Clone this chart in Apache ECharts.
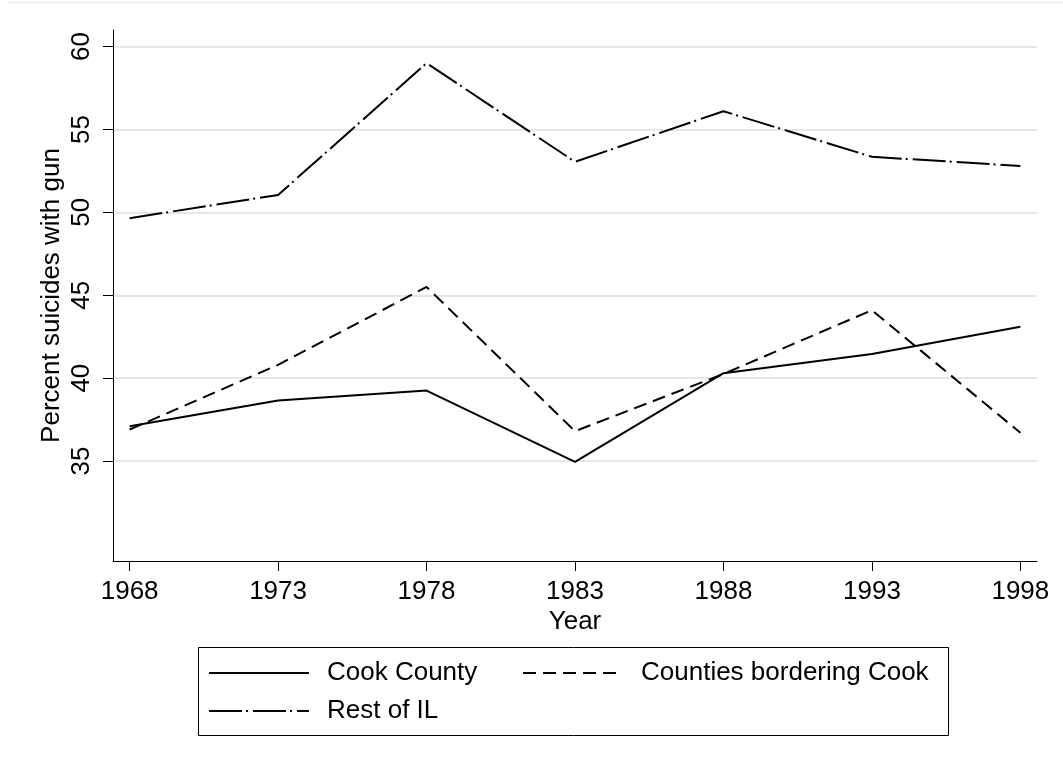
<html>
<head>
    <meta charset='utf-8'/>
    <title>Percent suicides with gun</title>
    <style>
        body {
            margin: 0;
            padding: 0;
            background: #fff;
        }

        #chart {
            width: 1063px;
            height: 769px;
        }
    </style>
</head>
<body>
<div id='chart'></div>
<script type="text/javascript" src="https://cdn.jsdelivr.net/npm/echarts@6/dist/echarts.min.js"></script>
<script type="text/javascript">
    var years = [1968, 1973, 1978, 1983, 1988, 1993, 1998];
    var yTicks = [35, 40, 45, 50, 55, 60];
    var cookCounty = [37.1, 38.65, 39.25, 34.95, 40.3, 41.45, 43.1];
    var bordering = [36.9, 40.8, 45.5, 36.8, 40.25, 44.1, 36.7];
    var restOfIL = [49.65, 51.05, 59.0, 53.05, 56.1, 53.35, 52.8];

    function pairs(values) {
        return years.map(function (y, i) {
            return [y, values[i]];
        });
    }

    var font = "'Liberation Sans', Arial, sans-serif";
    var chart = echarts.init(document.getElementById('chart'), null, {renderer: 'canvas'});

    // shared legend look, stata-like long line samples
    var legendBase = {
        orient: 'vertical',
        itemWidth: 100,
        itemHeight: 14,
        itemGap: 12,
        align: 'left',
        itemStyle: {opacity: 0},
        textStyle: {
            fontSize: 26,
            color: '#000',
            fontFamily: font,
            padding: [0, 0, 0, 13]
        }
    };

    var option = {
        backgroundColor: '#fff',
        animation: false,
        textStyle: {fontFamily: font, color: '#000'},
        grid: {
            left: 113,
            right: 26,
            top: 30,
            bottom: 208,
            containLabel: false
        },
        xAxis: {
            type: 'value',
            min: 1967.44,
            max: 1998.56,
            name: 'Year',
            nameLocation: 'middle',
            nameGap: 48,
            nameMoveOverlap: false,
            nameTextStyle: {fontSize: 26, color: '#000', fontFamily: font},
            axisLine: {lineStyle: {color: '#000', width: 1}},
            axisTick: {show: true, length: 10, customValues: years, lineStyle: {color: '#000'}},
            axisLabel: {
                customValues: years,
                formatter: function (v) { return String(v); },
                fontSize: 26,
                color: '#000',
                margin: 18,
                fontFamily: font
            },
            splitLine: {show: false}
        },
        yAxis: {
            type: 'value',
            min: 28.97,
            max: 61.0,
            name: 'Percent suicides with gun',
            nameLocation: 'middle',
            nameGap: 48,
            nameMoveOverlap: false,
            nameRotate: 90,
            nameTextStyle: {fontSize: 26, color: '#000', fontFamily: font},
            axisLine: {show: true, lineStyle: {color: '#000', width: 1}},
            axisTick: {show: true, length: 10, customValues: yTicks, lineStyle: {color: '#000'}},
            axisLabel: {
                customValues: yTicks,
                rotate: 90,
                fontSize: 26,
                color: '#000',
                margin: 18,
                fontFamily: font
            },
            splitLine: {show: true, lineStyle: {color: '#e3e7f0', width: 2}}
        },
        legend: [
            echarts.util.merge({
                left: 198,
                top: 647,
                padding: [13, 0, 0, 10],
                data: ['Cook County', 'Rest of IL']
            }, legendBase),
            echarts.util.merge({
                left: 522,
                top: 660,
                padding: 0,
                data: ['Counties bordering Cook']
            }, legendBase)
        ],
        graphic: [{
            type: 'line',
            shape: {x1: 8, y1: 2.5, x2: 1063, y2: 2.5},
            style: {stroke: '#e6eaf1', lineWidth: 1.5}
        }, {
            type: 'rect',
            shape: {x: 198.5, y: 647.5, width: 750, height: 88},
            style: {fill: null, stroke: '#000', lineWidth: 1}
        }],
        series: [
            {
                name: 'Cook County',
                type: 'line',
                data: pairs(cookCounty),
                symbol: 'none',
                lineStyle: {color: '#000', width: 2, type: 'solid'},
                itemStyle: {color: '#000'}
            },
            {
                name: 'Counties bordering Cook',
                type: 'line',
                data: pairs(bordering),
                symbol: 'none',
                lineStyle: {color: '#000', width: 2, type: [13, 7]},
                itemStyle: {color: '#000'}
            },
            {
                name: 'Rest of IL',
                type: 'line',
                data: pairs(restOfIL),
                symbol: 'none',
                lineStyle: {color: '#000', width: 2, type: [33, 4, 2, 5]},
                itemStyle: {color: '#000'}
            }
        ]
    };
    chart.setOption(option);
</script>
</body>
</html>
